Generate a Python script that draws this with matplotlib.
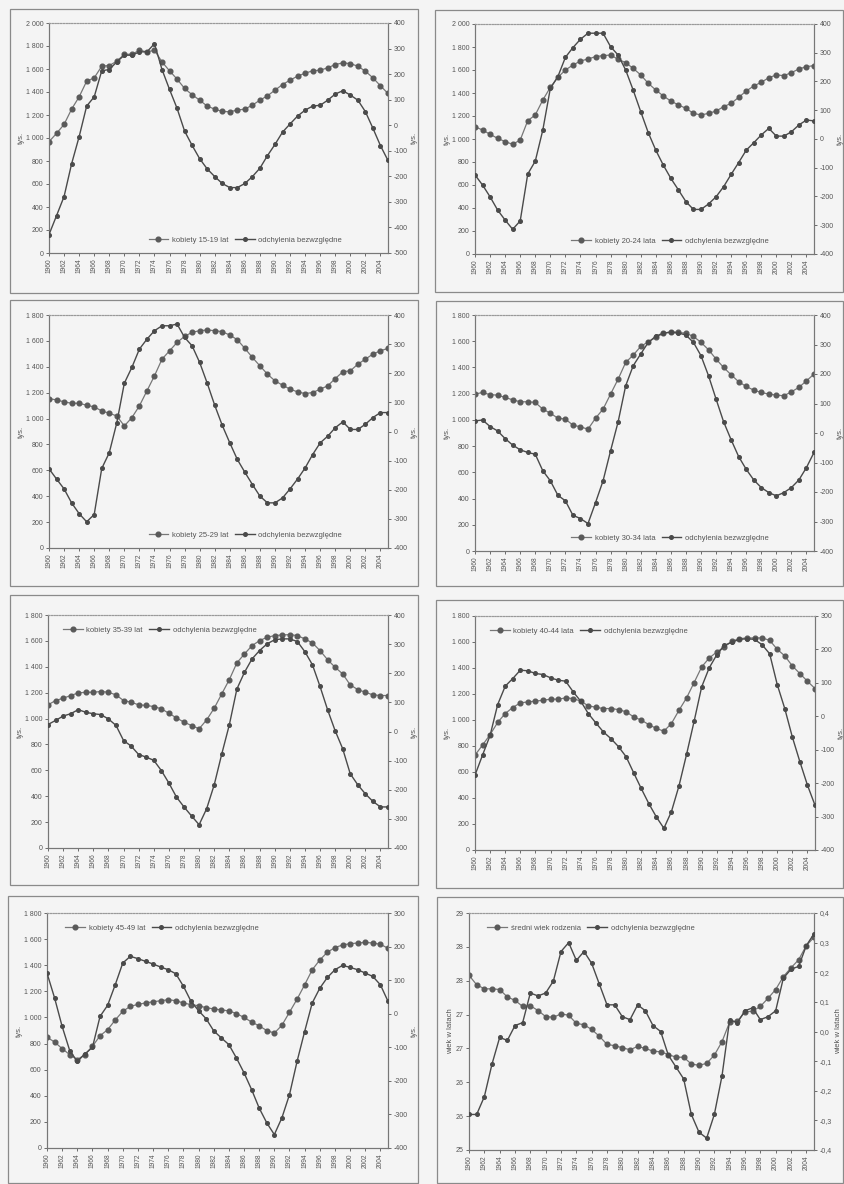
import matplotlib
matplotlib.use("Agg")
import matplotlib.pyplot as plt
from matplotlib.patches import Rectangle
from matplotlib.ticker import FixedLocator, FuncFormatter, NullLocator
import numpy as np

plt.rcParams["font.family"] = ["Liberation Sans", "DejaVu Sans"]

years = list(range(1960, 2006))
year_ticks = list(range(1960, 2005, 2))

# women by age group (thousands) and absolute deviations (thousands)
k15_19 = [968, 1040, 1118, 1251, 1358, 1494, 1523, 1624, 1630, 1668,
          1728, 1728, 1763, 1749, 1763, 1662, 1584, 1512, 1431, 1376,
          1329, 1277, 1251, 1231, 1228, 1243, 1251, 1286, 1329, 1367,
          1416, 1465, 1503, 1538, 1564, 1584, 1590, 1610, 1639, 1653,
          1647, 1624, 1581, 1523, 1454, 1387]
dev15_19 = [-428, -354, -279, -151, -45, 75, 111, 213, 218, 248,
            274, 274, 287, 287, 319, 218, 140, 66, -23, -79,
            -131, -171, -201, -228, -244, -244, -228, -201, -168, -119,
            -75, -27, 5, 36, 59, 75, 78, 98, 122, 135,
            118, 98, 53, -12, -80, -138]

k20_24 = [1107, 1078, 1041, 1006, 977, 954, 991, 1159, 1209, 1339,
          1449, 1536, 1600, 1643, 1678, 1696, 1716, 1725, 1730, 1693,
          1664, 1614, 1557, 1484, 1426, 1374, 1330, 1296, 1267, 1223,
          1209, 1223, 1243, 1281, 1310, 1362, 1417, 1461, 1493, 1533,
          1557, 1551, 1577, 1609, 1629, 1638]
dev20_24 = [-125, -160, -201, -247, -282, -314, -285, -122, -77, 31,
            176, 217, 284, 318, 347, 368, 368, 368, 321, 292,
            240, 170, 95, 22, -39, -91, -137, -177, -218, -245,
            -245, -226, -201, -166, -123, -82, -39, -13, 14, 37,
            10, 10, 25, 49, 66, 63]

k25_29 = [1154, 1144, 1129, 1118, 1118, 1103, 1090, 1059, 1041, 1020,
          943, 1007, 1098, 1214, 1330, 1459, 1523, 1588, 1635, 1666,
          1679, 1684, 1679, 1671, 1645, 1609, 1542, 1472, 1407, 1343,
          1291, 1258, 1227, 1206, 1193, 1201, 1227, 1253, 1309, 1361,
          1369, 1420, 1459, 1498, 1524, 1542]
dev25_29 = [-128, -163, -197, -245, -282, -310, -285, -127, -73, 30,
            166, 220, 283, 317, 346, 363, 363, 369, 323, 294,
            237, 166, 90, 21, -39, -96, -140, -182, -222, -245,
            -245, -228, -197, -163, -125, -79, -39, -16, 13, 33,
            7, 7, 25, 48, 65, 65]

k30_34 = [1197, 1209, 1192, 1189, 1171, 1153, 1138, 1138, 1133, 1082,
          1051, 1013, 1006, 960, 947, 929, 1013, 1082, 1197, 1311,
          1438, 1494, 1560, 1596, 1629, 1660, 1673, 1668, 1660, 1637,
          1591, 1535, 1464, 1400, 1344, 1291, 1255, 1227, 1209, 1197,
          1189, 1184, 1214, 1248, 1298, 1349]
dev30_34 = [41, 44, 22, 7, -19, -41, -57, -66, -72, -128,
            -162, -211, -230, -279, -290, -307, -236, -162, -60, 38,
            160, 228, 268, 307, 328, 339, 341, 339, 332, 307,
            262, 194, 115, 38, -23, -80, -123, -159, -185, -202,
            -213, -202, -185, -159, -117, -66]

k35_39 = [1106, 1139, 1157, 1178, 1198, 1203, 1203, 1209, 1203, 1183,
          1139, 1126, 1106, 1101, 1093, 1075, 1041, 1005, 972, 946,
          921, 990, 1080, 1191, 1301, 1430, 1499, 1563, 1602, 1628,
          1641, 1646, 1648, 1641, 1615, 1584, 1525, 1455, 1396, 1345,
          1260, 1224, 1203, 1183, 1178, 1178]
dev35_39 = [24, 38, 53, 61, 75, 66, 61, 58, 43, 21,
            -31, -50, -79, -88, -99, -134, -177, -225, -259, -290,
            -320, -265, -183, -77, 23, 146, 203, 249, 278, 301,
            315, 318, 318, 309, 274, 229, 155, 75, 3, -59,
            -145, -183, -214, -240, -259, -259]

k40_44 = [730, 807, 888, 981, 1050, 1096, 1132, 1139, 1145, 1152,
          1160, 1160, 1170, 1165, 1145, 1109, 1098, 1088, 1088, 1080,
          1063, 1024, 999, 965, 935, 914, 973, 1075, 1170, 1288,
          1408, 1477, 1523, 1562, 1605, 1626, 1631, 1631, 1631, 1613,
          1544, 1493, 1416, 1357, 1298, 1242]
dev40_44 = [-176, -116, -57, 35, 90, 113, 138, 136, 128, 125,
            115, 108, 105, 73, 45, 8, -20, -47, -67, -91,
            -121, -169, -216, -261, -301, -335, -285, -208, -114, -15,
            88, 145, 184, 212, 222, 230, 232, 230, 214, 187,
            95, 23, -62, -136, -206, -266]

k45_49 = [848, 812, 761, 715, 677, 715, 779, 860, 906, 980,
          1047, 1085, 1100, 1111, 1120, 1128, 1136, 1128, 1111, 1098,
          1090, 1075, 1065, 1058, 1050, 1030, 1000, 965, 935, 900,
          880, 940, 1040, 1140, 1250, 1365, 1440, 1500, 1535, 1555,
          1565, 1570, 1575, 1570, 1560, 1530]
dev45_49 = [121, 47, -38, -110, -142, -120, -100, -8, 25, 86,
            151, 171, 164, 156, 148, 139, 131, 119, 82, 37,
            9, -15, -51, -72, -92, -132, -176, -226, -281, -325,
            -360, -310, -241, -142, -53, 32, 76, 108, 131, 144,
            138, 131, 121, 111, 86, 37]

# mean age of mother at childbirth (years) and its absolute deviations
mean_age = [27.58, 27.44, 27.38, 27.38, 27.37, 27.26, 27.21, 27.12, 27.13, 27.06,
            26.97, 26.96, 27.01, 26.99, 26.87, 26.85, 26.78, 26.68, 26.56, 26.54,
            26.51, 26.48, 26.53, 26.50, 26.46, 26.45, 26.41, 26.37, 26.37, 26.27,
            26.25, 26.28, 26.40, 26.60, 26.89, 26.90, 27.04, 27.05, 27.12, 27.24,
            27.37, 27.56, 27.69, 27.81, 28.02, 28.14]
dev_age = [-0.28, -0.28, -0.22, -0.11, -0.02, -0.03, 0.02, 0.03, 0.13, 0.12,
           0.13, 0.17, 0.27, 0.30, 0.24, 0.27, 0.23, 0.16, 0.09, 0.09,
           0.05, 0.04, 0.09, 0.07, 0.02, 0.00, -0.08, -0.12, -0.16, -0.28,
           -0.34, -0.36, -0.28, -0.15, 0.04, 0.03, 0.07, 0.08, 0.04, 0.05,
           0.07, 0.18, 0.21, 0.22, 0.29, 0.33]

labels_main = ["kobiety 15-19 lat", "kobiety 20-24 lata", "kobiety 25-29 lat",
               "kobiety 30-34 lata", "kobiety 35-39 lat", "kobiety 40-44 lata",
               "kobiety 45-49 lat", "średni wiek rodzenia"]
label_dev = "odchylenia bezwzględne"

W, H = 844, 1184
fig = plt.figure(figsize=(W / 100, H / 100), dpi=100)
fig.patch.set_facecolor("#f4f4f4")

GRAY = "#5a5a5a"
TXT = "#555555"


def thousands(v, pos):
    return f"{int(round(v)):,}".replace(",", " ")


def plain(v, pos):
    return f"{int(round(v))}"


def half_up(v, pos):
    return str(int(np.floor(v + 0.5 + 1e-9)))


def comma1(v, pos):
    s = f"{v:.1f}".replace(".", ",")
    return "0,0" if s == "-0,0" else s


panels = [
    dict(main=k15_19, dev=dev15_19, lab=labels_main[0], box=(10, 9, 418, 293),
         plot=(49, 23, 388, 253), left=(0, 2000, 200), right=(-500, 400, 100),
         leg=(0.28, 0.02), legloc="lower left", unit="tys."),
    dict(main=k20_24, dev=dev20_24, lab=labels_main[1], box=(435, 10, 843, 292),
         plot=(475, 24, 814, 254), left=(0, 2000, 200), right=(-400, 400, 100),
         leg=(0.27, 0.02), legloc="lower left", unit="tys."),
    dict(main=k25_29, dev=dev25_29, lab=labels_main[2], box=(10, 300, 418, 586),
         plot=(49, 315, 388, 548), left=(0, 1800, 200), right=(-400, 400, 100),
         leg=(0.28, 0.02), legloc="lower left", unit="tys."),
    dict(main=k30_34, dev=dev30_34, lab=labels_main[3], box=(436, 301, 843, 586),
         plot=(475, 315, 814, 551), left=(0, 1800, 200), right=(-400, 400, 100),
         leg=(0.27, 0.02), legloc="lower left", unit="tys."),
    dict(main=k35_39, dev=dev35_39, lab=labels_main[4], box=(10, 595, 418, 885),
         plot=(48, 615, 388, 848), left=(0, 1800, 200), right=(-400, 400, 100),
         leg=(0.03, 0.97), legloc="upper left", unit="tys."),
    dict(main=k40_44, dev=dev40_44, lab=labels_main[5], box=(436, 600, 843, 888),
         plot=(475, 616, 815, 850), left=(0, 1800, 200), right=(-400, 300, 100),
         leg=(0.03, 0.97), legloc="upper left", unit="tys."),
    dict(main=k45_49, dev=dev45_49, lab=labels_main[6], box=(8, 896, 418, 1183),
         plot=(47, 913, 388, 1148), left=(0, 1800, 200), right=(-400, 300, 100),
         leg=(0.04, 0.97), legloc="upper left", unit="tys."),
    dict(main=mean_age, dev=dev_age, lab=labels_main[7], box=(437, 897, 843, 1183),
         plot=(469, 913, 814, 1150), left=(25, 28.5, 0.5), right=(-0.4, 0.4, 0.1),
         leg=(0.04, 0.97), legloc="upper left", unit="wiek w latach"),
]

for i, p in enumerate(panels):
    bx0, by0, bx1, by1 = p["box"]
    fig.patches.append(Rectangle((bx0 / W, 1 - by1 / H), (bx1 - bx0) / W, (by1 - by0) / H,
                                 transform=fig.transFigure, fill=False,
                                 edgecolor="#8a8a8a", linewidth=0.9))
    l, t, r, b = p["plot"]
    ax = fig.add_axes([l / W, 1 - b / H, (r - l) / W, (b - t) / H])
    ax.set_facecolor("none")
    ax2 = ax.twinx()

    lo, hi, st = p["left"]
    ax.set_ylim(lo, hi)
    ax.yaxis.set_major_locator(FixedLocator(np.arange(lo, hi + st / 2, st)))
    rlo, rhi, rst = p["right"]
    ax2.set_ylim(rlo, rhi)
    ax2.yaxis.set_major_locator(FixedLocator(np.arange(rlo, rhi + rst / 2, rst)))
    if i < 7:
        ax.yaxis.set_major_formatter(FuncFormatter(thousands))
        ax2.yaxis.set_major_formatter(FuncFormatter(plain))
    else:
        ax.yaxis.set_major_formatter(FuncFormatter(half_up))
        ax2.yaxis.set_major_formatter(FuncFormatter(comma1))

    ax.set_xlim(1960, 2005)
    ax.xaxis.set_major_locator(FixedLocator(year_ticks))
    ax.xaxis.set_minor_locator(NullLocator())
    ax.set_xticklabels([str(y) for y in year_ticks], rotation=90)

    l1, = ax.plot(years, p["main"], color="#777777", lw=0.9, marker="o",
                  ms=3.4, mfc=GRAY, mec=GRAY, label=p["lab"], zorder=3)
    l2, = ax2.plot(years, p["dev"], color="#4a4a4a", lw=1.0, marker="o",
                   ms=2.6, mfc="#4a4a4a", mec="#4a4a4a", label=label_dev, zorder=3)

    for a in (ax, ax2):
        a.tick_params(labelsize=5, colors=TXT, length=2.5, width=0.6, pad=1.5)
        for s in a.spines.values():
            s.set_color("#777777")
            s.set_linewidth(0.8)
        a.spines["top"].set_linestyle((0, (1, 1.5)))
        a.spines["top"].set_color("#999999")
    ax.tick_params(axis="x", labelsize=4.8, pad=1.5)
    ax.set_ylabel(p["unit"], fontsize=5.5, color=TXT, labelpad=1)
    ax2.set_ylabel(p["unit"], fontsize=5.5, color=TXT, labelpad=2)

    leg = ax.legend(handles=[l1, l2], loc=p["legloc"], bbox_to_anchor=p["leg"],
                    ncol=2, frameon=False, fontsize=5.5, handlelength=2.6,
                    columnspacing=0.8, handletextpad=0.5, borderaxespad=0.2)
    for t_ in leg.get_texts():
        t_.set_color(TXT)
    leg.set_zorder(5)

fig.savefig("out.png", dpi=100, facecolor=fig.get_facecolor())
